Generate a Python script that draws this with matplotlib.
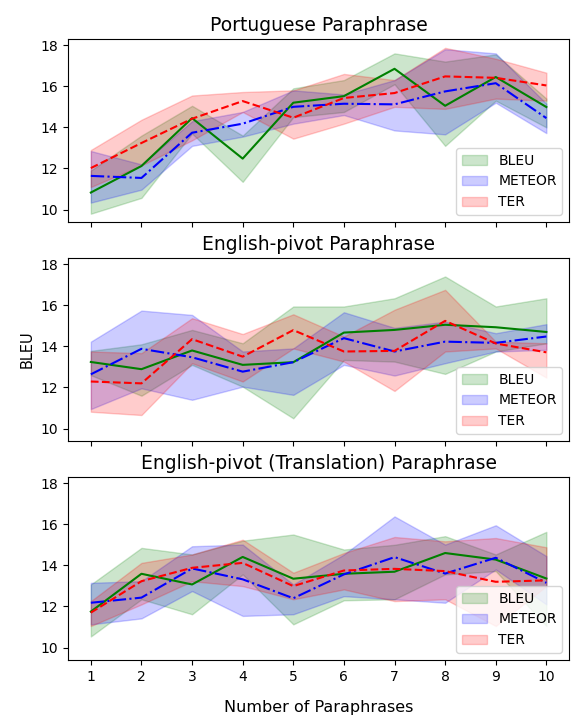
import numpy as np
import matplotlib
matplotlib.use('Agg')
import matplotlib.pyplot as plt

x = np.arange(1, 11)
titles = ['Portuguese Paraphrase', 'English-pivot Paraphrase',
          'English-pivot (Translation) Paraphrase']

# Portuguese Paraphrase
pt_bleu = [10.83, 12.12, 14.45, 12.48, 15.2, 15.52, 16.85, 15.05, 16.45, 14.99]
pt_bleu_hi = [11.9, 13.6, 15.05, 13.6, 15.9, 16.3, 17.6, 17.2, 17.55, 15.4]
pt_bleu_lo = [9.8, 10.57, 13.7, 11.35, 14.5, 14.75, 16.1, 13.1, 15.3, 14.0]
pt_meteor = [11.64, 11.54, 13.74, 14.18, 15.0, 15.15, 15.12, 15.75, 16.15, 14.45]
pt_meteor_hi = [12.85, 12.2, 14.3, 14.75, 15.8, 15.6, 16.3, 17.8, 17.6, 15.15]
pt_meteor_lo = [10.34, 10.97, 13.1, 13.55, 14.18, 14.6, 13.85, 13.66, 15.2, 13.72]
pt_ter = [12.02, 13.24, 14.42, 15.28, 14.47, 15.43, 15.67, 16.48, 16.41, 16.04]
pt_ter_hi = [12.9, 14.37, 15.55, 15.72, 15.8, 16.6, 16.3, 17.87, 17.34, 16.66]
pt_ter_lo = [11.1, 12.15, 13.37, 14.75, 13.45, 14.18, 15.0, 14.9, 15.4, 15.3]

# English-pivot Paraphrase
en_bleu = [13.24, 12.89, 13.8, 13.1, 13.23, 14.67, 14.8, 15.05, 14.93, 14.7]
en_bleu_hi = [13.78, 14.1, 14.8, 14.15, 15.94, 15.94, 16.34, 17.4, 15.94, 16.34]
en_bleu_lo = [12.6, 11.6, 13.1, 12.04, 10.5, 13.34, 13.26, 12.66, 13.75, 14.15]
en_meteor = [12.64, 13.88, 13.47, 12.77, 13.23, 14.4, 13.75, 14.23, 14.17, 14.48]
en_meteor_hi = [14.23, 15.74, 15.53, 13.75, 13.9, 15.66, 14.9, 15.2, 14.64, 15.08]
en_meteor_lo = [10.95, 11.96, 11.4, 12.04, 11.64, 13.1, 12.58, 13.18, 13.75, 13.83]
en_ter = [12.29, 12.2, 14.35, 13.5, 14.79, 13.75, 13.78, 15.24, 14.14, 13.71]
en_ter_hi = [13.75, 13.67, 15.37, 14.6, 15.56, 14.48, 15.78, 16.75, 14.23, 14.15]
en_ter_lo = [10.82, 10.66, 13.18, 12.29, 13.9, 13.26, 11.83, 13.75, 13.9, 12.48]

# English-pivot (Translation) Paraphrase
tr_bleu = [11.75, 13.59, 13.07, 14.41, 13.35, 13.59, 13.69, 14.6, 14.28, 13.36]
tr_bleu_hi = [13.07, 14.85, 14.53, 15.2, 15.5, 14.77, 15.0, 15.42, 14.53, 15.63]
tr_bleu_lo = [10.54, 12.35, 11.62, 13.56, 11.13, 12.3, 12.35, 13.56, 13.72, 11.05]
tr_meteor = [12.18, 12.43, 13.85, 13.32, 12.4, 13.56, 14.4, 13.6, 14.37, 13.15]
tr_meteor_hi = [13.15, 13.23, 14.93, 15.01, 13.07, 14.53, 16.38, 15.01, 15.95, 14.45]
tr_meteor_lo = [11.13, 11.42, 12.75, 11.54, 11.62, 12.5, 12.35, 12.18, 13.8, 12.1]
tr_ter = [11.7, 13.23, 13.88, 14.12, 12.99, 13.75, 13.83, 13.72, 13.2, 13.27]
tr_ter_hi = [12.26, 14.12, 14.53, 15.25, 13.64, 14.6, 15.38, 15.17, 15.33, 14.88]
tr_ter_lo = [11.05, 12.1, 13.23, 12.99, 12.35, 12.83, 12.26, 12.35, 11.05, 12.99]

panels = [
    [(pt_bleu, pt_bleu_lo, pt_bleu_hi), (pt_meteor, pt_meteor_lo, pt_meteor_hi), (pt_ter, pt_ter_lo, pt_ter_hi)],
    [(en_bleu, en_bleu_lo, en_bleu_hi), (en_meteor, en_meteor_lo, en_meteor_hi), (en_ter, en_ter_lo, en_ter_hi)],
    [(tr_bleu, tr_bleu_lo, tr_bleu_hi), (tr_meteor, tr_meteor_lo, tr_meteor_hi), (tr_ter, tr_ter_lo, tr_ter_hi)],
]
names = ['BLEU', 'METEOR', 'TER']
colors = ['g', 'b', 'r']
styles = ['-', '-.', '--']

fig, axes = plt.subplots(3, 1, sharex=True, sharey=True, figsize=(5.72, 7.22), dpi=100)
fig.subplots_adjust(left=0.119, right=0.995, top=0.946, bottom=0.086, hspace=0.197)

for ax, title, series in zip(axes, titles, panels):
    for (m, lo, hi), name, c, ls in zip(series, names, colors, styles):
        ax.plot(x, m, color=c, linestyle=ls)
        ax.fill_between(x, lo, hi, color=c, alpha=0.2, label=name)
    ax.set_title(title, fontsize=13.5)
    ax.legend(loc='lower right', fontsize=10, handlelength=1.8)

axes[-1].set_xticks(x)
axes[0].set_ylim(9.4, 18.3)
axes[0].set_yticks([10, 12, 14, 16, 18])
axes[1].set_ylabel('BLEU', fontsize=10.5)
axes[-1].set_xlabel('Number of Paraphrases', fontsize=11.5, labelpad=12)

plt.savefig('out.png')
